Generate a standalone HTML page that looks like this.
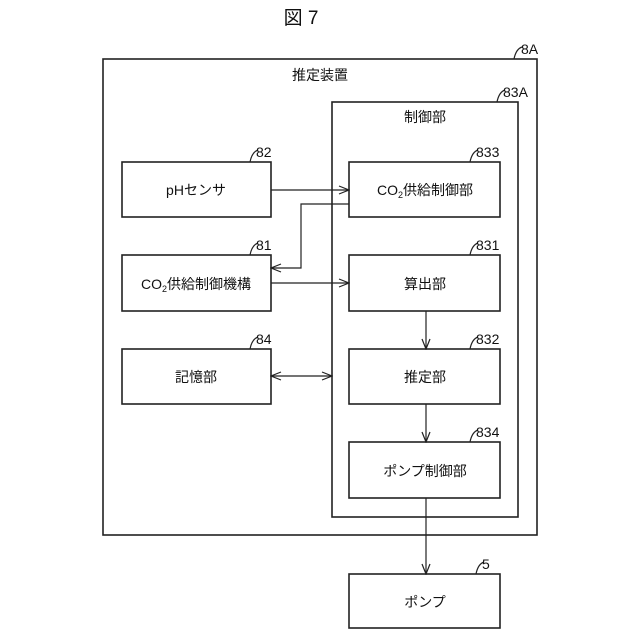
<!DOCTYPE html>
<html><head><meta charset="utf-8"><style>body{margin:0;background:#fff}svg{display:block}text{font-family:"Liberation Sans","Noto Sans CJK JP",sans-serif;fill:#111}</style></head><body>
<svg width="640" height="640" viewBox="0 0 640 640" xmlns="http://www.w3.org/2000/svg">
<defs><marker id="a" markerWidth="12" markerHeight="10" refX="11" refY="5" orient="auto-start-reverse" markerUnits="userSpaceOnUse"><path d="M1,1 L11,5 L1,9" fill="none" stroke="#222" stroke-width="1.2"/></marker></defs>
<g fill="none" stroke="#222" stroke-width="1.6">
<rect x="103" y="59" width="434" height="476"/>
<rect x="332" y="102" width="186" height="415"/>
<rect x="122" y="162" width="149" height="55"/>
<rect x="122" y="255" width="149" height="56"/>
<rect x="122" y="349" width="149" height="55"/>
<rect x="349" y="162" width="151" height="55"/>
<rect x="349" y="255" width="151" height="56"/>
<rect x="349" y="349" width="151" height="55"/>
<rect x="349" y="442" width="151" height="56"/>
<rect x="349" y="574" width="151" height="54"/>
</g>
<g fill="none" stroke="#222" stroke-width="1.2">
<path d="M271 190 H349" marker-end="url(#a)"/>
<path d="M349 204 H301 V268 H271" marker-end="url(#a)"/>
<path d="M271 283 H349" marker-end="url(#a)"/>
<path d="M426 311 V349" marker-end="url(#a)"/>
<path d="M426 404 V442" marker-end="url(#a)"/>
<path d="M426 498 V574" marker-end="url(#a)"/>
<path d="M271 376 H332" marker-start="url(#a)" marker-end="url(#a)"/>
<path d="M514 59 q2 -10 8 -12"/>
<path d="M497 102 q2 -10 8 -12"/>
<path d="M250 162 q2 -10 8 -12"/>
<path d="M250 255 q2 -10 8 -12"/>
<path d="M250 349 q2 -10 8 -12"/>
<path d="M470 162 q2 -10 8 -12"/>
<path d="M470 255 q2 -10 8 -12"/>
<path d="M470 349 q2 -10 8 -12"/>
<path d="M470 442 q2 -10 8 -12"/>
<path d="M476 574 q2 -10 8 -12"/>
</g>
<g font-size="14">
<text x="301" y="24" font-size="19" text-anchor="middle">図 7</text>
<text x="521" y="54">8A</text>
<text x="503" y="97">83A</text>
<text x="256" y="157">82</text>
<text x="256" y="250">81</text>
<text x="256" y="344">84</text>
<text x="476" y="157">833</text>
<text x="476" y="250">831</text>
<text x="476" y="344">832</text>
<text x="476" y="437">834</text>
<text x="482" y="569">5</text>
</g>
<g font-size="14" text-anchor="middle">
<text x="320" y="80">推定装置</text>
<text x="425" y="122">制御部</text>
<text x="196" y="195">pHセンサ</text>
<text x="196" y="289">CO<tspan font-size="9" dy="3">2</tspan><tspan dy="-3">供給制御機構</tspan></text>
<text x="196" y="382">記憶部</text>
<text x="425" y="195">CO<tspan font-size="9" dy="3">2</tspan><tspan dy="-3">供給制御部</tspan></text>
<text x="425" y="289">算出部</text>
<text x="425" y="382">推定部</text>
<text x="425" y="476">ポンプ制御部</text>
<text x="425" y="607">ポンプ</text>
</g>
</svg>
</body></html>
